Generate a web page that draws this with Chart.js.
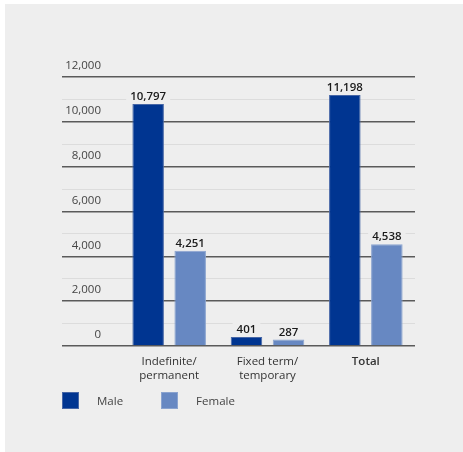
<!DOCTYPE html>
<html>
<head>
<meta charset="utf-8">
<script src="https://cdn.jsdelivr.net/npm/chart.js@4"></script>
<style>
  html, body { margin: 0; padding: 0; background: #ffffff; }
  body { width: 463px; height: 452px; position: relative; overflow: hidden; font-family: "Open Sans", sans-serif; }
  #panel { position: absolute; left: 5px; top: 4px; right: 0; bottom: 0; background: #eeeeee; }
  #wrap { position: absolute; left: 0; top: 0; width: 463px; height: 452px; }
  #legend { position: absolute; left: 62px; top: 392px; display: flex; align-items: center; font-size: 11.5px; color: #444; }
  .item { display: flex; align-items: center; }
  .sw { width: 15px; height: 15px; border: 1px solid; margin-right: 18px; }
</style>
</head>
<body>
<div id="panel"></div>
<div id="wrap"><canvas id="c" width="463" height="452"></canvas></div>
<div id="legend"></div>
<script>
const categories = [["Indefinite/", "permanent"], ["Fixed term/", "temporary"], "Total"];
const seriesNames = ["Male", "Female"];
const maleValues = [10797, 401, 11198];
const femaleValues = [4251, 287, 4538];
const yTickValues = [0, 2000, 4000, 6000, 8000, 10000, 12000];

const fillColors = ["#003591", "#6788c2"];
const borderColors = ["#4666a6", "#8aa3cf"];

// HTML legend
const legendEl = document.getElementById('legend');
seriesNames.forEach((name, i) => {
  const it = document.createElement('div');
  it.className = 'item';
  it.style.marginRight = i === 0 ? '38px' : '0';
  const sw = document.createElement('div');
  sw.className = 'sw';
  sw.style.background = fillColors[i];
  sw.style.borderColor = borderColors[i];
  const tx = document.createElement('span');
  tx.textContent = name;
  it.appendChild(sw); it.appendChild(tx);
  legendEl.appendChild(it);
});

const valueLabels = {
  id: 'valueLabels',
  afterDatasetsDraw(chart) {
    const ctx = chart.ctx;
    ctx.save();
    ctx.font = '600 11.5px "Open Sans", sans-serif';
    ctx.textAlign = 'center';
    ctx.textBaseline = 'alphabetic';
    chart.data.datasets.forEach((ds, di) => {
      const meta = chart.getDatasetMeta(di);
      meta.data.forEach((bar, i) => {
        const txt = ds.data[i].toLocaleString('en-US');
        const w = ctx.measureText(txt).width;
        const yb = bar.y - 4;
        ctx.fillStyle = '#eeeeee';
        ctx.fillRect(bar.x - w / 2 - 4, yb - 11, w + 8, 14);
        ctx.fillStyle = '#1a1a1a';
        ctx.fillText(txt, bar.x, yb);
      });
    });
    ctx.restore();
  }
};

new Chart(document.getElementById('c'), {
  type: 'bar',
  data: {
    labels: categories,
    datasets: [
      { label: seriesNames[0], data: maleValues, backgroundColor: fillColors[0], borderColor: borderColors[0], borderWidth: 1 },
      { label: seriesNames[1], data: femaleValues, backgroundColor: fillColors[1], borderColor: borderColors[1], borderWidth: 1 }
    ]
  },
  options: {
    responsive: false,
    animation: false,
    devicePixelRatio: 1,
    categoryPercentage: 0.855,
    barPercentage: 0.75,
    layout: { padding: { left: 0, right: 48, top: 77, bottom: 50 } },
    plugins: { legend: { display: false }, tooltip: { enabled: false } },
    scales: {
      x: {
        grid: { display: false, drawTicks: false },
        border: { display: false },
        ticks: {
          padding: 9,
          color: '#333333',
          font: (c) => ({ family: '"Open Sans", sans-serif', size: 11.5, weight: c.index === 2 ? '600' : 'normal', lineHeight: 1.2 }),
          maxRotation: 0,
          autoSkip: false
        },
        afterFit: (s) => { s.height = 56; }
      },
      y: {
        min: 0,
        max: 12000,
        border: { display: false },
        grid: {
          drawTicks: true,
          tickLength: 58,
          color: (c) => (c.tick && c.tick.value % 2000 === 0) ? '#5a5a5a' : '#dcdcdc',
          tickColor: (c) => (c.tick && c.tick.value % 2000 === 0) ? '#5a5a5a' : '#dcdcdc',
          lineWidth: (c) => (c.tick && c.tick.value % 2000 === 0) ? 1.5 : 1,
          tickWidth: (c) => (c.tick && c.tick.value % 2000 === 0) ? 1.5 : 1
        },
        ticks: {
          stepSize: 1000,
          padding: -39,
          labelOffset: -11,
          color: '#444444',
          font: { family: '"Open Sans", sans-serif', size: 11.5 },
          callback: (v) => yTickValues.includes(v) ? v.toLocaleString('en-US') : ''
        },
        afterFit: (s) => { s.width = 120; }
      }
    }
  },
  plugins: [valueLabels]
});
</script>
</body>
</html>
